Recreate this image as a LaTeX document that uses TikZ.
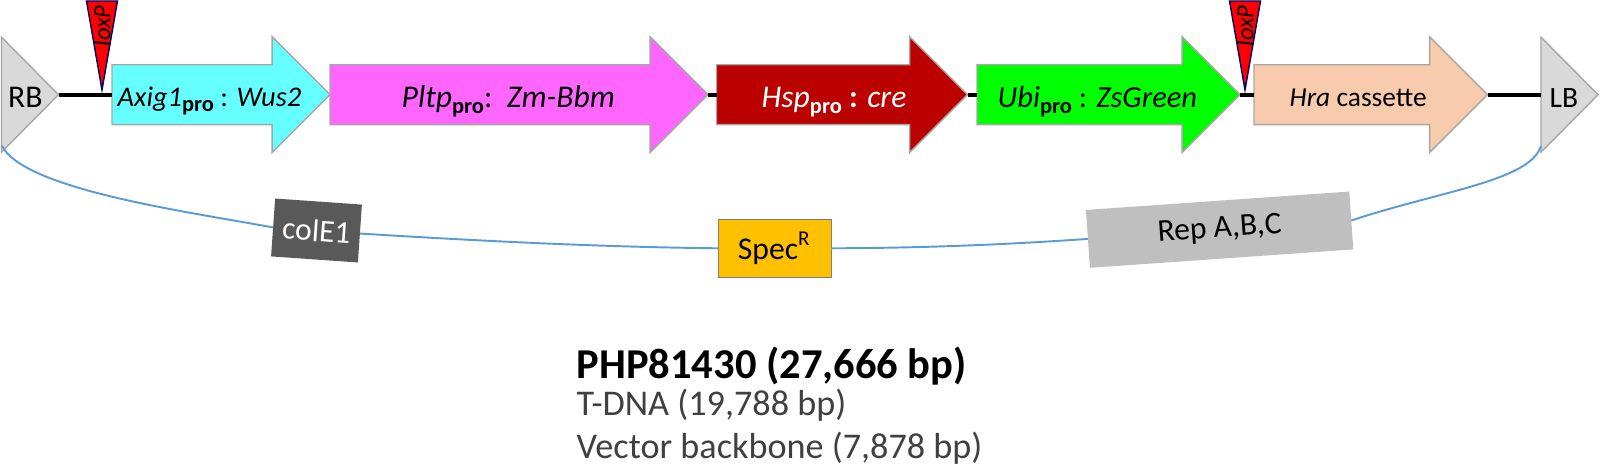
\documentclass[tikz,border=0pt]{standalone}
\usepackage{fontspec}
\setmainfont{Carlito}
\usetikzlibrary{shapes.arrows,shapes.geometric}
\definecolor{wusarrow}{HTML}{66FFFF}
\definecolor{bbmarrow}{HTML}{FF66FF}
\definecolor{crearrow}{HTML}{BB0000}
\definecolor{peach}{HTML}{F8CBAD}
\definecolor{spec}{HTML}{FFC000}
\definecolor{backbone}{HTML}{5B9BD5}
\newcommand{\pro}{\raisebox{-.35ex}{\fontsize{6.4}{7}\selectfont\bfseries\upshape pro}}
\tikzset{
  gene/.style={shape=single arrow, draw=black!35, line width=.4pt, inner sep=0, outer sep=0,
    text height=.585cm, text depth=0, single arrow head extend=.28cm, single arrow head indent=0,
    single arrow tip angle=90, anchor=tail},
  border/.style={shape=isosceles triangle, isosceles triangle stretches, draw=black!35, line width=.4pt,
    fill=black!15, inner sep=0, outer sep=0, minimum width=1.15cm, minimum height=.57cm, anchor=lower side},
  loxsite/.style={shape=isosceles triangle, isosceles triangle stretches, shape border rotate=270,
    draw=blue!40!black, line width=.4pt, fill=red, inner sep=0, outer sep=0,
    minimum width=.31cm, minimum height=.89cm, anchor=apex},
  genetext/.style={anchor=base west, inner sep=0, font=\fontsize{#1}{10}\selectfont},
  genetext/.default=9,
  tdna/.style={line width=1.05pt},
  plasmid/.style={backbone, line width=.55pt},
  feature/.style={inner sep=0, outer sep=0, minimum height=.58cm, font=\fontsize{9}{10}\selectfont},
}
\begin{document}
\begin{tikzpicture}
  \useasboundingbox (0,0) rectangle (16,4.65);
  % T-DNA
  \node[border] (rb) at (0.015,3.703) {};
  \node[border] (lb) at (15.41,3.703) {};
  \node[gene, fill=wusarrow, minimum height=2.18cm] (axig) at (1.12,3.703) {};
  \node[gene, fill=bbmarrow, minimum height=3.78cm] (pltp) at (3.30,3.703) {};
  \node[gene, fill=crearrow, minimum height=2.51cm] (hsp) at (7.165,3.703) {};
  \node[gene, fill=green, minimum height=2.63cm] (ubi) at (9.77,3.703) {};
  \node[gene, fill=peach, minimum height=2.335cm] (hra) at (12.54,3.703) {};
  \draw[tdna] (rb.apex) -- (axig.tail);
  \draw[tdna] (pltp.tip) -- (hsp.tail);
  \draw[tdna] (hsp.tip) -- (ubi.tail);
  \draw[tdna] (ubi.tip) -- (hra.tail);
  \draw[tdna] (hra.tip) -- (lb.lower side);
  \node[loxsite] (lox1) at (1.02,3.75) {};
  \node[loxsite] (lox2) at (12.45,3.75) {};
  \node[rotate=90, inner sep=0, font=\fontsize{7}{8}\selectfont\itshape] (lox1text) at (1.02,4.39) {loxP};
  \node[rotate=90, inner sep=0, font=\fontsize{7}{8}\selectfont\itshape] (lox2text) at (12.45,4.39) {loxP};
  \node[genetext] (rbtext) at (0.075,3.57) {RB};
  \node[genetext=8.4] (lbtext) at (15.49,3.57) {LB};
  \node[genetext=8.1] (axigtext) at (1.17,3.58) {\textit{Axig1}\pro\ : \textit{Wus2}};
  \node[genetext] (pltptext) at (4.01,3.57) {\textit{Pltp}\pro:\ \ \textit{Zm-Bbm}};
  \node[genetext, text=white] (hsptext) at (7.61,3.57) {\textit{Hsp}\pro\ \textbf{:} \textit{cre}};
  \node[genetext=8.7] (ubitext) at (9.97,3.57) {\textit{Ubi}\pro\ : \textit{ZsGreen}};
  \node[genetext=7.8] (hratext) at (12.89,3.58) {\textit{Hra} cassette};
  % backbone
  \node[feature, fill=black!65, text=white, minimum width=.87cm, rotate=-4] (cole) at (3.165,2.345) {colE1};
  \node[feature, fill=spec, draw=black!50, line width=.4pt, minimum width=1.13cm] (specr) at (7.747,2.167) {Spec\textsuperscript{R}};
  \node[feature, fill=black!25, minimum width=2.64cm, rotate=4] (rep) at (12.196,2.353) {Rep A,B,C};
  \coordinate (rbend) at (0.02,3.19);
  \coordinate (lbend) at (15.41,3.19);
  \draw[plasmid] (rbend) .. controls (0.25,2.75) and (1.90,2.53) .. (cole.west);
  \draw[plasmid] (cole.east) .. controls (4.80,2.24) and (6.00,2.18) .. (specr.west);
  \draw[plasmid] (specr.east) .. controls (9.20,2.17) and (10.00,2.20) .. (rep.west);
  \draw[plasmid] (rep.east) .. controls (14.40,2.74) and (15.30,2.84) .. (lbend);
  % caption
  \node[anchor=base west, inner sep=0, font=\fontsize{12.1}{13}\selectfont\bfseries] (title) at (5.76,0.86) {PHP81430 (27,666 bp)};
  \node[anchor=base west, inner sep=0, text=black!75, font=\fontsize{10.3}{11}\selectfont] (tdnatext) at (5.76,0.49) {T-DNA (19,788 bp)};
  \node[anchor=base west, inner sep=0, text=black!75, font=\fontsize{10.3}{11}\selectfont] (vectortext) at (5.76,0.06) {Vector backbone (7,878 bp)};
\end{tikzpicture}
\end{document}
